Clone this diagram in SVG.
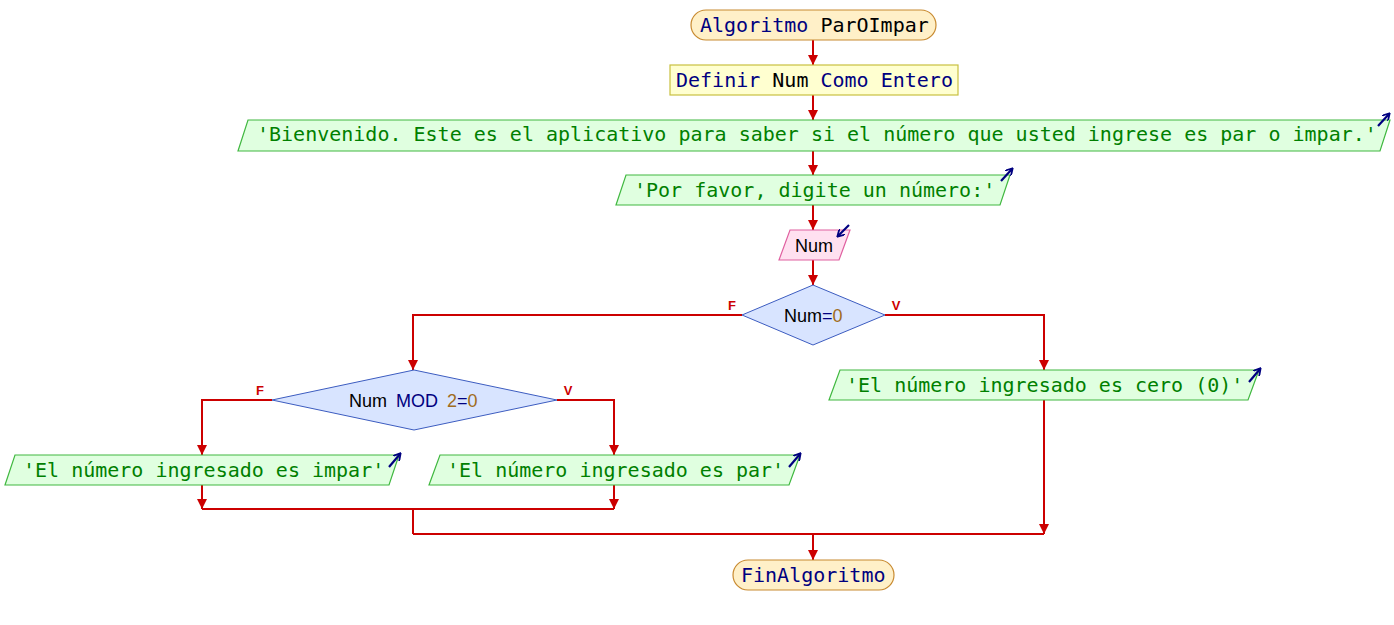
<svg xmlns="http://www.w3.org/2000/svg" width="1394" height="625" viewBox="0 0 1394 625">
<defs>
<marker id="ah" markerUnits="userSpaceOnUse" markerWidth="12" markerHeight="10" refX="10" refY="5" orient="auto">
<path d="M0,0 L10,5 L0,10 Z" fill="#cc0000"/>
</marker>
<marker id="ih" markerUnits="userSpaceOnUse" markerWidth="8" markerHeight="8" refX="6" refY="4" orient="auto">
<path d="M0,0 L7,4 L0,8" fill="none" stroke="#000080" stroke-width="1.8"/>
</marker>
</defs>
<style>
.mono{font-family:"DejaVu Sans Mono","Liberation Mono",monospace;font-size:20px}
.kw{fill:#000080}
.id{fill:#000000}
.str{fill:#008000}
.num{fill:#a06c20}
.sans{font-family:"Liberation Sans","DejaVu Sans",sans-serif;font-size:18px}
.term{fill:#fff0c8;stroke:#c88a30;stroke-width:1.2}
.def{fill:#ffffd0;stroke:#c8c040;stroke-width:1.2}
.out{fill:#e0ffe0;stroke:#40b840;stroke-width:1.2}
.inp{fill:#ffe0f0;stroke:#e060a0;stroke-width:1.2}
.dec{fill:#d8e4ff;stroke:#3c5cc0;stroke-width:1}
.icon{stroke:#000080;stroke-width:2.2;fill:none;marker-end:url(#ih)}
.lbl{font-family:"Liberation Sans","DejaVu Sans",sans-serif;font-size:13px;font-weight:bold;fill:#cc0000;text-anchor:middle}
.c{fill:none;stroke:#cc0000;stroke-width:2}
.ca{fill:none;stroke:#cc0000;stroke-width:2;marker-end:url(#ah)}
</style>
<rect width="1394" height="625" fill="#ffffff"/>
<g id="connectors">
<path class="ca" d="M813,40 V65"/>
<path class="ca" d="M813,95 V120"/>
<path class="ca" d="M813,151 V175"/>
<path class="ca" d="M813,205 V230"/>
<path class="ca" d="M813,260 V285"/>
<path class="ca" d="M742,315 H413 V370"/>
<path class="ca" d="M885,315 H1044 V370"/>
<path class="ca" d="M272,400 H202 V455"/>
<path class="ca" d="M557,400 H614 V455"/>
<path class="ca" d="M202,485 V509"/>
<path class="ca" d="M614,485 V509"/>
<path class="c" d="M202,509 H614"/>
<path class="c" d="M413,509 V534"/>
<path class="ca" d="M1044,400 V534"/>
<path class="c" d="M413,534 H1044"/>
<path class="ca" d="M813,534 V560"/>
<text class="lbl" x="732" y="310">F</text>
<text class="lbl" x="896" y="310">V</text>
<text class="lbl" x="260" y="395">F</text>
<text class="lbl" x="568" y="395">V</text>
</g>
<g id="start">
<rect class="term" x="691" y="10" width="245" height="30" rx="15" ry="15"/>
<text class="mono" x="700" y="32"><tspan class="kw">Algoritmo</tspan><tspan class="id"> ParOImpar</tspan></text>
</g>
<g id="definir">
<rect class="def" x="670" y="65" width="288" height="30"/>
<text class="mono" x="676" y="87"><tspan class="kw">Definir </tspan><tspan class="id">Num</tspan><tspan class="kw"> Como Entero</tspan></text>
</g>
<g id="out1">
<polygon class="out" points="248,120 1390,120 1380,151 238,151"/>
<text class="mono str" x="257" y="141">'Bienvenido. Este es el aplicativo para saber si el número que usted ingrese es par o impar.'</text>
<path class="icon" d="M1378,126 L1389,114"/>
</g>
<g id="out2">
<polygon class="out" points="626,175 1010,175 1000,205 616,205"/>
<text class="mono str" x="634" y="197">'Por favor, digite un número:'</text>
<path class="icon" d="M1001,181 L1012,169"/>
</g>
<g id="input">
<polygon class="inp" points="790,230 850,230 839,260 779,260"/>
<text class="sans id" x="795" y="252">Num</text>
<path class="icon" d="M849,225 L838,236"/>
</g>
<g id="dec1">
<polygon class="dec" points="813,285 885,315 813,345 742,315"/>
<text class="sans" x="784" y="322"><tspan class="id">Num</tspan><tspan class="kw">=</tspan><tspan class="num">0</tspan></text>
</g>
<g id="dec2">
<polygon class="dec" points="414,370 557,400 414,430 272,400"/>
<text class="sans" x="349" y="407" word-spacing="4"><tspan class="id">Num</tspan><tspan class="kw"> MOD </tspan><tspan class="num">2</tspan><tspan class="kw">=</tspan><tspan class="num">0</tspan></text>
</g>
<g id="out-impar">
<polygon class="out" points="15,455 399,455 389,485 5,485"/>
<text class="mono str" x="23" y="477">'El número ingresado es impar'</text>
<path class="icon" d="M389,467 L400,454"/>
</g>
<g id="out-par">
<polygon class="out" points="440,455 800,455 789,485 429,485"/>
<text class="mono str" x="447" y="477">'El número ingresado es par'</text>
<path class="icon" d="M789,467 L800,454"/>
</g>
<g id="out-cero">
<polygon class="out" points="840,370 1259,370 1248,400 829,400"/>
<text class="mono str" x="846" y="392">'El número ingresado es cero (0)'</text>
<path class="icon" d="M1249,382 L1260,369"/>
</g>
<g id="end">
<rect class="term" x="733" y="560" width="161" height="30" rx="15" ry="15"/>
<text class="mono kw" x="741" y="582">FinAlgoritmo</text>
</g>
</svg>
